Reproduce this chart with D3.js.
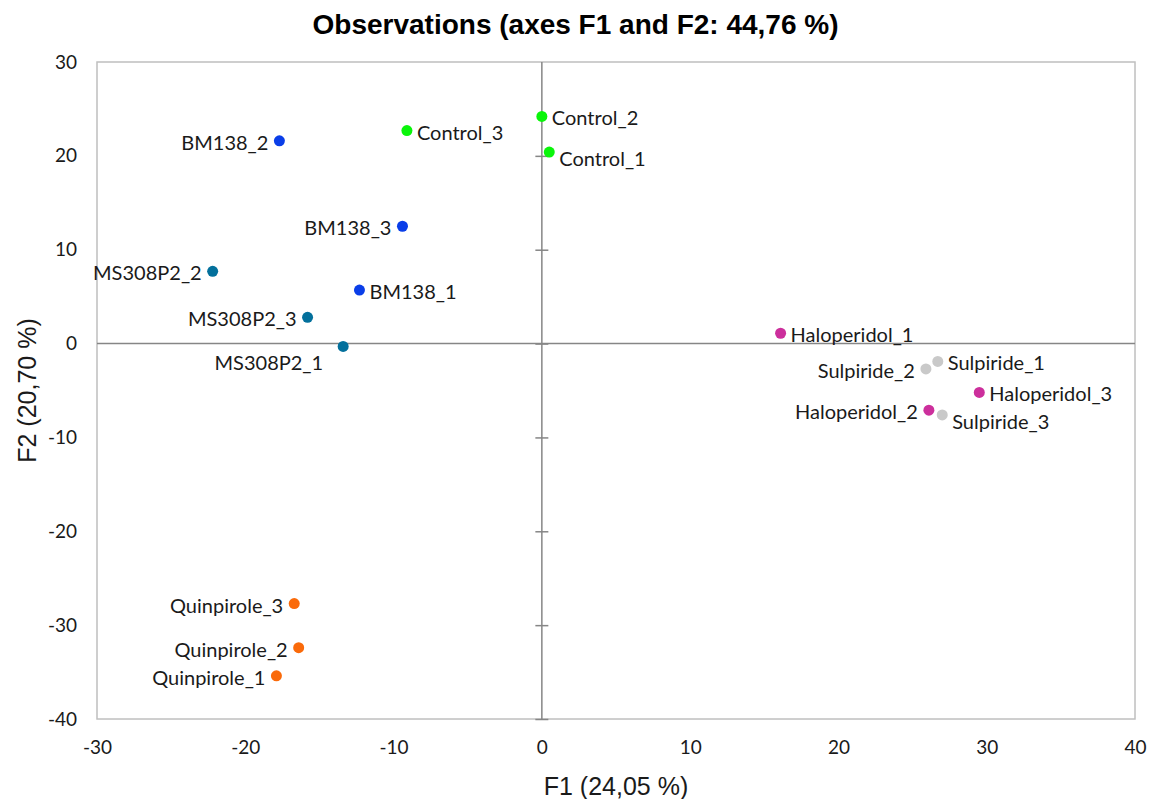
<!DOCTYPE html>
<html>
<head>
<meta charset="utf-8">
<script src="https://cdn.jsdelivr.net/npm/d3@7"></script>
<style>
  body { margin: 0; background: #fff; }
  .tick text { font-family: Lato, "Open Sans", sans-serif; font-size: 19px; fill: #1a1a1a; }
  .ptlabel { font-family: Lato, "Open Sans", sans-serif; font-size: 20px; fill: #1a1a1a; }
</style>
</head>
<body>
<div id="chart"></div>
<script>
// observations from the PCA, F1 / F2 scores
var names = ["BM138_2", "Control_3", "Control_2", "Control_1", "BM138_3", "MS308P2_2",
  "BM138_1", "MS308P2_3", "MS308P2_1", "Haloperidol_1", "Sulpiride_2", "Sulpiride_1",
  "Haloperidol_3", "Haloperidol_2", "Sulpiride_3", "Quinpirole_3", "Quinpirole_2", "Quinpirole_1"];
var f1 = [-17.7, -9.1, 0.0, 0.5, -9.4, -22.2, -12.3, -15.8, -13.4, 16.1, 25.9, 26.7, 29.5, 26.1, 27.0, -16.7, -16.4, -17.9];
var f2 = [21.6, 22.7, 24.2, 20.4, 12.5, 7.7, 5.7, 2.8, -0.3, 1.1, -2.7, -1.9, -5.2, -7.1, -7.6, -27.7, -32.4, -35.4];
var groups = ["BM138", "Control", "Control", "Control", "BM138", "MS308P2", "BM138", "MS308P2", "MS308P2",
  "Haloperidol", "Sulpiride", "Sulpiride", "Haloperidol", "Haloperidol", "Sulpiride", "Quinpirole", "Quinpirole", "Quinpirole"];
// where each label sits relative to its point
var labelSide = ["left", "right", "right", "rightLow", "left", "left", "right", "left", "below",
  "right", "left", "right", "right", "left", "rightLow", "left", "left", "left"];

var groupNames = ["BM138", "Control", "MS308P2", "Haloperidol", "Sulpiride", "Quinpirole"];
var groupColors = ["#0a3ee8", "#0af50a", "#03709c", "#cc2f9c", "#c9c9c9", "#fa6a0a"];

var xTicks = [-30, -20, -10, 0, 10, 20, 30, 40];
var yTicks = [30, 20, 10, 0, -10, -20, -30, -40];

var svgWidth = 1151, svgHeight = 799;
var margin = { top: 62, right: 16, bottom: 80, left: 97 };
var width = svgWidth - margin.left - margin.right;
var height = svgHeight - margin.top - margin.bottom;

var svg = d3.select("#chart").append("svg")
  .attr("width", svgWidth)
  .attr("height", svgHeight);

var g = svg.append("g")
  .attr("transform", `translate(${margin.left},${margin.top})`);

var x = d3.scaleLinear().domain([-30, 40]).range([0, width]);
var y = d3.scaleLinear().domain([-40, 30]).range([height, 0]);
var color = d3.scaleOrdinal().domain(groupNames).range(groupColors);
var plain = d => String(d); // hyphen minus, like the original

// plot frame
g.append("rect")
  .attr("x", 0).attr("y", 0)
  .attr("width", width).attr("height", height)
  .attr("fill", "none")
  .attr("stroke", "#bfbfbf")
  .attr("stroke-width", 1.5);

// tick labels on the left and bottom edges
var yLab = g.append("g")
  .call(d3.axisLeft(y).tickValues(yTicks).tickSize(0).tickPadding(20).tickFormat(plain));
yLab.select(".domain").remove();

var xLab = g.append("g")
  .attr("transform", `translate(0,${height})`)
  .call(d3.axisBottom(x).tickValues(xTicks).tickSize(0).tickPadding(22).tickFormat(plain));
xLab.select(".domain").remove();

// vertical zero line carries crossing tick marks, the horizontal one has none
var yZero = g.append("g")
  .attr("transform", `translate(${x(0) + 6.5},0)`)
  .call(d3.axisLeft(y).tickValues(yTicks.filter(d => d !== 30)).tickSize(13).tickFormat(""));
yZero.select(".domain").remove();
yZero.selectAll("line").attr("stroke", "#868686").attr("stroke-width", 1.5);

g.append("line")
  .attr("x1", x(0)).attr("x2", x(0))
  .attr("y1", 0).attr("y2", height)
  .attr("stroke", "#868686").attr("stroke-width", 1.5);
g.append("line")
  .attr("x1", 0).attr("x2", width)
  .attr("y1", y(0)).attr("y2", y(0))
  .attr("stroke", "#868686").attr("stroke-width", 1.5);

// points
var idx = d3.range(names.length);
g.selectAll("circle.pt")
  .data(idx)
  .enter()
  .append("circle")
  .attr("class", "pt")
  .attr("cx", i => x(f1[i]))
  .attr("cy", i => y(f2[i]))
  .attr("r", 5.5)
  .attr("fill", i => color(groups[i]));

// labels
g.selectAll("text.ptlabel")
  .data(idx)
  .enter()
  .append("text")
  .attr("class", "ptlabel")
  .attr("x", function(i) {
    var s = labelSide[i];
    if (s === "left") return x(f1[i]) - 11;
    if (s === "below") return x(f1[i]) - 20;
    return x(f1[i]) + 10;
  })
  .attr("y", function(i) {
    var s = labelSide[i];
    if (s === "below") return y(f2[i]) + 17;
    if (s === "rightLow") return y(f2[i]) + 7;
    return y(f2[i]) + 2;
  })
  .attr("dy", "0.35em")
  .attr("text-anchor", i => (labelSide[i] === "left" || labelSide[i] === "below") ? "end" : "start")
  .text(i => names[i]);

// title and axis titles
svg.append("text")
  .attr("x", svgWidth / 2)
  .attr("y", 34)
  .attr("text-anchor", "middle")
  .style("font-family", "Liberation Sans, Arial, sans-serif")
  .style("font-size", "28px")
  .style("font-weight", "bold")
  .text("Observations (axes F1 and F2: 44,76 %)");

svg.append("text")
  .attr("x", margin.left + width / 2)
  .attr("y", 795)
  .attr("text-anchor", "middle")
  .style("font-family", "Liberation Sans, Arial, sans-serif")
  .style("font-size", "25px")
  .style("fill", "#1a1a1a")
  .text("F1 (24,05 %)");

svg.append("text")
  .attr("transform", `translate(36,${margin.top + height / 2}) rotate(-90)`)
  .attr("text-anchor", "middle")
  .style("font-family", "Liberation Sans, Arial, sans-serif")
  .style("font-size", "25px")
  .style("fill", "#1a1a1a")
  .text("F2 (20,70 %)");
</script>
</body>
</html>
